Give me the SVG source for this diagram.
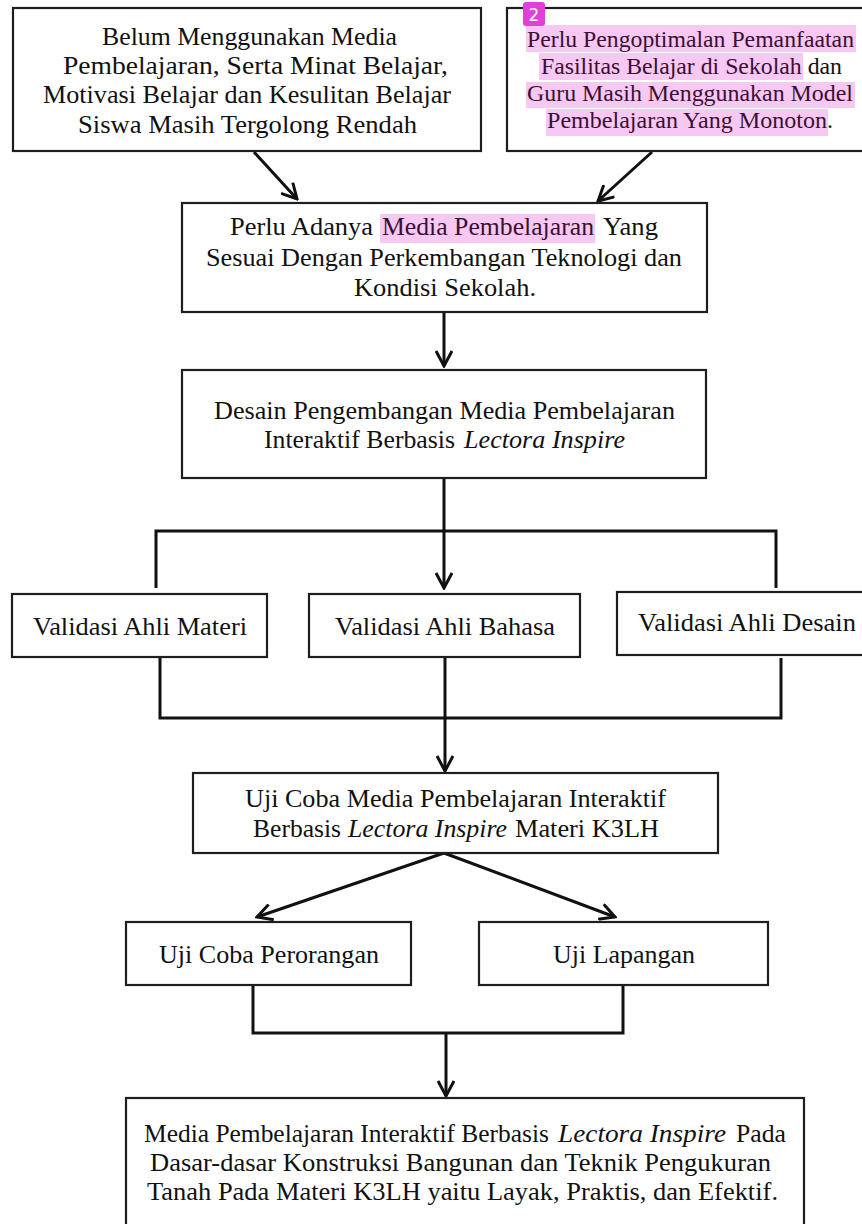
<svg xmlns="http://www.w3.org/2000/svg" width="862" height="1224" viewBox="0 0 862 1224">
<defs>
<style>
.box{fill:#fff;stroke:#1e1e1e;stroke-width:2.2}
.t{font-size:25px;fill:#111}
.s{font-size:23.5px}
.i{font-style:italic}
.hl{fill:#f7c8f1}
.ht{fill:#3a0f36}
.c{fill:none;stroke:#111;stroke-width:3}
</style>
<marker id="ah" viewBox="0 0 18 18" refX="16" refY="9" markerWidth="18" markerHeight="18" markerUnits="userSpaceOnUse" orient="auto">
<path d="M1,1 L16,9 L1,17" fill="none" stroke="#111" stroke-width="3"/>
</marker>
</defs>
<rect width="862" height="1224" fill="#fff"/>

<g id="connectors">
<path class="c" d="M254,152 L297,199" marker-end="url(#ah)"/>
<path class="c" d="M652,152 L598,201" marker-end="url(#ah)"/>
<path class="c" d="M444,312 V366" marker-end="url(#ah)"/>
<path class="c" d="M444,478 V588" marker-end="url(#ah)"/>
<path class="c" d="M156,588 V531 H776 V588"/>
<path class="c" d="M160,658 V718 H781 V658"/>
<path class="c" d="M445,657 V771" marker-end="url(#ah)"/>
<path class="c" d="M444,853 L257,917" marker-end="url(#ah)"/>
<path class="c" d="M444,853 L615,917" marker-end="url(#ah)"/>
<path class="c" d="M253,985 V1033 H623 V985"/>
<path class="c" d="M446,1033 V1096" marker-end="url(#ah)"/>
</g>

<g font-family="Liberation Serif, Times New Roman, serif">
<g id="node-belum">
<rect class="box" x="13" y="8" width="468" height="143"/>
<text class="t" x="102" y="45" textLength="295" lengthAdjust="spacingAndGlyphs">Belum Menggunakan Media</text>
<text class="t" x="63" y="74" textLength="385" lengthAdjust="spacingAndGlyphs">Pembelajaran, Serta Minat Belajar,</text>
<text class="t" x="43" y="103" textLength="408" lengthAdjust="spacingAndGlyphs">Motivasi Belajar dan Kesulitan Belajar</text>
<text class="t" x="78" y="133" textLength="339" lengthAdjust="spacingAndGlyphs">Siswa Masih Tergolong Rendah</text>
</g>

<g id="node-perlu-optimal">
<rect class="box" x="507" y="8" width="372" height="143"/>
<rect class="hl" x="526" y="25" width="330" height="27"/>
<rect class="hl" x="539" y="53" width="264" height="27"/>
<rect class="hl" x="526" y="82" width="329" height="26"/>
<rect class="hl" x="546" y="109" width="282" height="27"/>
<text class="t s ht" x="527" y="47" textLength="327" lengthAdjust="spacingAndGlyphs">Perlu Pengoptimalan Pemanfaatan</text>
<text class="t s" x="541" y="74" textLength="301" lengthAdjust="spacingAndGlyphs"><tspan class="ht">Fasilitas Belajar di Sekolah</tspan> dan</text>
<text class="t s ht" x="527" y="101" textLength="326" lengthAdjust="spacingAndGlyphs">Guru Masih Menggunakan Model</text>
<text class="t s" x="547" y="128" textLength="286" lengthAdjust="spacingAndGlyphs"><tspan class="ht">Pembelajaran Yang Monoton</tspan>.</text>
<rect x="523" y="2" width="22" height="24" rx="3" fill="#e03fd8"/>
<text x="534" y="21" text-anchor="middle" font-family="DejaVu Sans, sans-serif" font-size="17" fill="#fff">2</text>
</g>

<g id="node-perlu-media">
<rect class="box" x="182" y="203" width="525" height="109"/>
<rect class="hl" x="380" y="214" width="215" height="29"/>
<text class="t" x="230" y="235" textLength="143" lengthAdjust="spacingAndGlyphs">Perlu Adanya</text>
<text class="t ht" x="382" y="235" textLength="212" lengthAdjust="spacingAndGlyphs">Media Pembelajaran</text>
<text class="t" x="603" y="235" textLength="55" lengthAdjust="spacingAndGlyphs">Yang</text>
<text class="t" x="206" y="266" textLength="476" lengthAdjust="spacingAndGlyphs">Sesuai Dengan Perkembangan Teknologi dan</text>
<text class="t" x="354" y="296" textLength="182" lengthAdjust="spacingAndGlyphs">Kondisi Sekolah.</text>
</g>

<g id="node-desain">
<rect class="box" x="182" y="370" width="524" height="108"/>
<text class="t" x="214" y="419" textLength="461" lengthAdjust="spacingAndGlyphs">Desain Pengembangan Media Pembelajaran</text>
<text class="t" x="264" y="448" textLength="191" lengthAdjust="spacingAndGlyphs">Interaktif Berbasis</text>
<text class="t i" x="464" y="448" textLength="161" lengthAdjust="spacingAndGlyphs">Lectora Inspire</text>
</g>

<g id="node-materi">
<rect class="box" x="12" y="594" width="255" height="63"/>
<text class="t" x="33" y="635" textLength="214" lengthAdjust="spacingAndGlyphs">Validasi Ahli Materi</text>
</g>

<g id="node-bahasa">
<rect class="box" x="309" y="594" width="271" height="63"/>
<text class="t" x="335" y="635" textLength="220" lengthAdjust="spacingAndGlyphs">Validasi Ahli Bahasa</text>
</g>

<g id="node-desain-ahli">
<rect class="box" x="617" y="592" width="262" height="63"/>
<text class="t" x="638" y="631" textLength="218" lengthAdjust="spacingAndGlyphs">Validasi Ahli Desain</text>
</g>

<g id="node-ujicoba">
<rect class="box" x="193" y="773" width="525" height="80"/>
<text class="t" x="245" y="807" textLength="421" lengthAdjust="spacingAndGlyphs">Uji Coba Media Pembelajaran Interaktif</text>
<text class="t" x="253" y="837" textLength="88" lengthAdjust="spacingAndGlyphs">Berbasis</text>
<text class="t i" x="348" y="837" textLength="159" lengthAdjust="spacingAndGlyphs">Lectora Inspire</text>
<text class="t" x="515" y="837" textLength="144" lengthAdjust="spacingAndGlyphs">Materi K3LH</text>
</g>

<g id="node-perorangan">
<rect class="box" x="126" y="922" width="285" height="63"/>
<text class="t" x="159" y="963" textLength="220" lengthAdjust="spacingAndGlyphs">Uji Coba Perorangan</text>
</g>

<g id="node-lapangan">
<rect class="box" x="479" y="922" width="289" height="63"/>
<text class="t" x="553" y="963" textLength="142" lengthAdjust="spacingAndGlyphs">Uji Lapangan</text>
</g>

<g id="node-hasil">
<rect class="box" x="126" y="1098" width="678" height="140"/>
<text class="t" x="144" y="1142" textLength="405" lengthAdjust="spacingAndGlyphs">Media Pembelajaran Interaktif Berbasis</text>
<text class="t i" x="558" y="1142" textLength="168" lengthAdjust="spacingAndGlyphs">Lectora Inspire</text>
<text class="t" x="736" y="1142" textLength="50" lengthAdjust="spacingAndGlyphs">Pada</text>
<text class="t" x="150" y="1171" textLength="621" lengthAdjust="spacingAndGlyphs">Dasar-dasar Konstruksi Bangunan dan Teknik Pengukuran</text>
<text class="t" x="147" y="1200" textLength="631" lengthAdjust="spacingAndGlyphs">Tanah Pada Materi K3LH yaitu Layak, Praktis, dan Efektif.</text>
</g>
</g>
</svg>
